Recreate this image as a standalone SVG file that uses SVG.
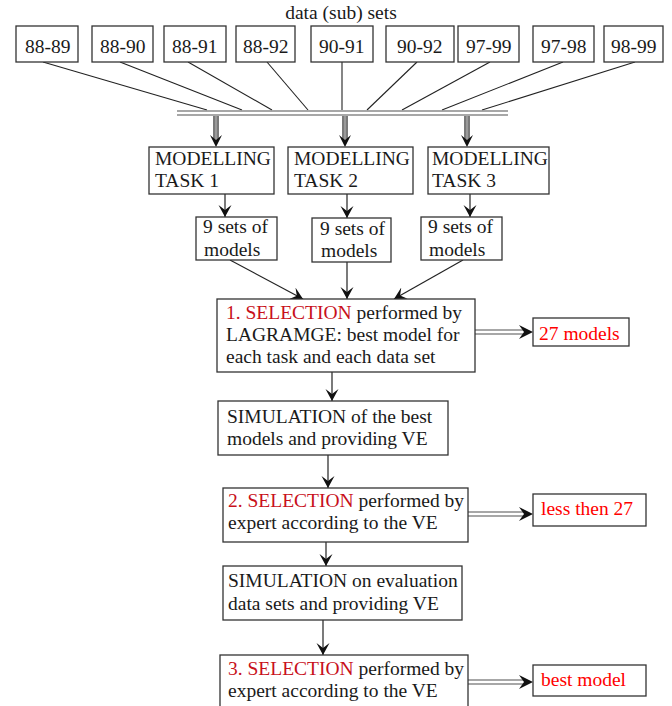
<svg xmlns="http://www.w3.org/2000/svg" width="672" height="706" viewBox="0 0 672 706">
<defs>
<style>
text{font-family:"Liberation Serif","Times New Roman",serif;font-size:19.5px;fill:#1a1a1a}
.box{fill:#fff;stroke:#333;stroke-width:1.3}
.ln{stroke:#222;stroke-width:1.1;fill:none}
.arr{stroke:#222;stroke-width:1.2;fill:none;marker-end:url(#ah)}
.gbar{stroke:#8a8a8a;stroke-width:1.6;fill:none}
.sel{fill:#c8101a}
.red{fill:#ff0000}
</style>
<marker id="ah" markerUnits="userSpaceOnUse" markerWidth="14" markerHeight="14" refX="12" refY="7" orient="auto">
<path d="M0,0.5 L12,7 L0,13.5 L5,7 z" fill="#111"/>
</marker>
</defs>

<text x="341" y="19" text-anchor="middle">data (sub) sets</text>

<g id="connectors">
<!-- data set lines to bus -->
<line class="ln" x1="43" y1="62" x2="207" y2="110"/>
<line class="ln" x1="120" y1="62" x2="242" y2="110"/>
<line class="ln" x1="188" y1="62" x2="272" y2="110"/>
<line class="ln" x1="267" y1="62" x2="308" y2="110"/>
<line class="ln" x1="342" y1="62" x2="342" y2="110"/>
<line class="ln" x1="417" y1="62" x2="367" y2="110"/>
<line class="ln" x1="490" y1="62" x2="402" y2="110"/>
<line class="ln" x1="563" y1="62" x2="442" y2="110"/>
<line class="ln" x1="635" y1="62" x2="482" y2="110"/>
<!-- bus -->
<line class="gbar" x1="177" y1="111" x2="508" y2="111"/>
<line class="gbar" x1="177" y1="115" x2="508" y2="115"/>
<!-- thick gray arrows -->
<g>
<line x1="216" y1="116" x2="216" y2="141" stroke="#7a7a7a" stroke-width="6"/>
<line x1="216" y1="116" x2="216" y2="141" stroke="#b0b0b0" stroke-width="1.2"/>
<path d="M210,135 L216,147 L222,135 L216,140 z" fill="#111"/>
<line x1="345" y1="116" x2="345" y2="141" stroke="#7a7a7a" stroke-width="6"/>
<line x1="345" y1="116" x2="345" y2="141" stroke="#b0b0b0" stroke-width="1.2"/>
<path d="M339,135 L345,147 L351,135 L345,140 z" fill="#111"/>
<line x1="467" y1="116" x2="467" y2="141" stroke="#7a7a7a" stroke-width="6"/>
<line x1="467" y1="116" x2="467" y2="141" stroke="#b0b0b0" stroke-width="1.2"/>
<path d="M461,135 L467,147 L473,135 L467,140 z" fill="#111"/>
</g>
<!-- task to sets -->
<line class="arr" x1="225" y1="194" x2="225" y2="217"/>
<line class="arr" x1="347" y1="194" x2="347" y2="218"/>
<line class="arr" x1="470" y1="194" x2="470" y2="217"/>
<!-- sets to selection 1 -->
<line class="arr" x1="230" y1="260" x2="303" y2="299"/>
<line class="arr" x1="347" y1="262" x2="347" y2="299"/>
<line class="arr" x1="463" y1="260" x2="394" y2="299"/>
<!-- vertical chain -->
<line class="arr" x1="332" y1="372" x2="332" y2="401"/>
<line class="arr" x1="328" y1="455" x2="328" y2="488"/>
<line class="arr" x1="326" y1="542" x2="326" y2="566"/>
<line class="arr" x1="323" y1="620" x2="323" y2="655"/>
<!-- double arrows -->
<line class="gbar" x1="475" y1="330" x2="524" y2="330"/>
<line class="gbar" x1="475" y1="334" x2="524" y2="334"/>
<path d="M519,325 L533,332 L519,339 L524,332 z" fill="#111"/>
<line class="gbar" x1="468" y1="512" x2="524" y2="512"/>
<line class="gbar" x1="468" y1="516" x2="524" y2="516"/>
<path d="M519,507 L533,514 L519,521 L524,514 z" fill="#111"/>
<line class="gbar" x1="468" y1="680" x2="524" y2="680"/>
<line class="gbar" x1="468" y1="684" x2="524" y2="684"/>
<path d="M519,675 L533,682 L519,689 L524,682 z" fill="#111"/>
</g>

<g id="ds-88-89"><rect class="box" x="16" y="26" width="62" height="36"/><text x="25" y="53">88-89</text></g>
<g id="ds-88-90"><rect class="box" x="92" y="26" width="61" height="36"/><text x="100" y="53">88-90</text></g>
<g id="ds-88-91"><rect class="box" x="164" y="26" width="62" height="36"/><text x="172" y="53">88-91</text></g>
<g id="ds-88-92"><rect class="box" x="236" y="26" width="59" height="36"/><text x="243" y="53">88-92</text></g>
<g id="ds-90-91"><rect class="box" x="311" y="26" width="62" height="36"/><text x="319" y="53">90-91</text></g>
<g id="ds-90-92"><rect class="box" x="386" y="26" width="68" height="36"/><text x="397" y="53">90-92</text></g>
<g id="ds-97-99"><rect class="box" x="458" y="26" width="61" height="36"/><text x="466" y="53">97-99</text></g>
<g id="ds-97-98"><rect class="box" x="533" y="26" width="61" height="36"/><text x="541" y="53">97-98</text></g>
<g id="ds-98-99"><rect class="box" x="604" y="26" width="59" height="36"/><text x="611" y="53">98-99</text></g>

<g id="task1"><rect class="box" x="149" y="147" width="125" height="47"/><text x="155" y="165">MODELLING</text><text x="155" y="187">TASK 1</text></g>
<g id="task2"><rect class="box" x="288" y="147" width="125" height="47"/><text x="294" y="165">MODELLING</text><text x="294" y="187">TASK 2</text></g>
<g id="task3"><rect class="box" x="428" y="147" width="121" height="47"/><text x="432" y="165">MODELLING</text><text x="432" y="187">TASK 3</text></g>

<g id="sets1"><rect class="box" x="196" y="217" width="81" height="43"/><text x="203" y="233">9 sets of</text><text x="204" y="256">models</text></g>
<g id="sets2"><rect class="box" x="312" y="218" width="79" height="44"/><text x="320" y="235">9 sets of</text><text x="321" y="257">models</text></g>
<g id="sets3"><rect class="box" x="421" y="217" width="81" height="43"/><text x="428" y="233">9 sets of</text><text x="429" y="256">models</text></g>

<g id="selection1"><rect class="box" x="217" y="299" width="258" height="73"/>
<text x="226" y="319"><tspan class="sel">1. SELECTION</tspan> performed by</text>
<text x="226" y="341">LAGRAMGE: best model for</text>
<text x="226" y="363">each task and each data set</text></g>
<g id="out27"><rect class="box" x="533" y="318" width="96" height="28"/><text class="red" x="539" y="340">27 models</text></g>

<g id="simulation1"><rect class="box" x="218" y="401" width="230" height="54"/>
<text x="227" y="423">SIMULATION of the best</text>
<text x="227" y="445">models and providing VE</text></g>

<g id="selection2"><rect class="box" x="223" y="488" width="245" height="54"/>
<text x="228" y="507"><tspan class="sel">2. SELECTION</tspan> performed by</text>
<text x="228" y="529">expert according to the VE</text></g>
<g id="outless"><rect class="box" x="533" y="494" width="113" height="32"/><text class="red" x="541" y="515">less then 27</text></g>

<g id="simulation2"><rect class="box" x="223" y="566" width="239" height="54"/>
<text x="228" y="587">SIMULATION on evaluation</text>
<text x="228" y="610">data sets and providing VE</text></g>

<g id="selection3"><rect class="box" x="220" y="655" width="248" height="60"/>
<text x="228" y="675"><tspan class="sel">3. SELECTION</tspan> performed by</text>
<text x="228" y="697">expert according to the VE</text></g>
<g id="outbest"><rect class="box" x="533" y="665" width="113" height="31"/><text class="red" x="541" y="686">best model</text></g>
</svg>
